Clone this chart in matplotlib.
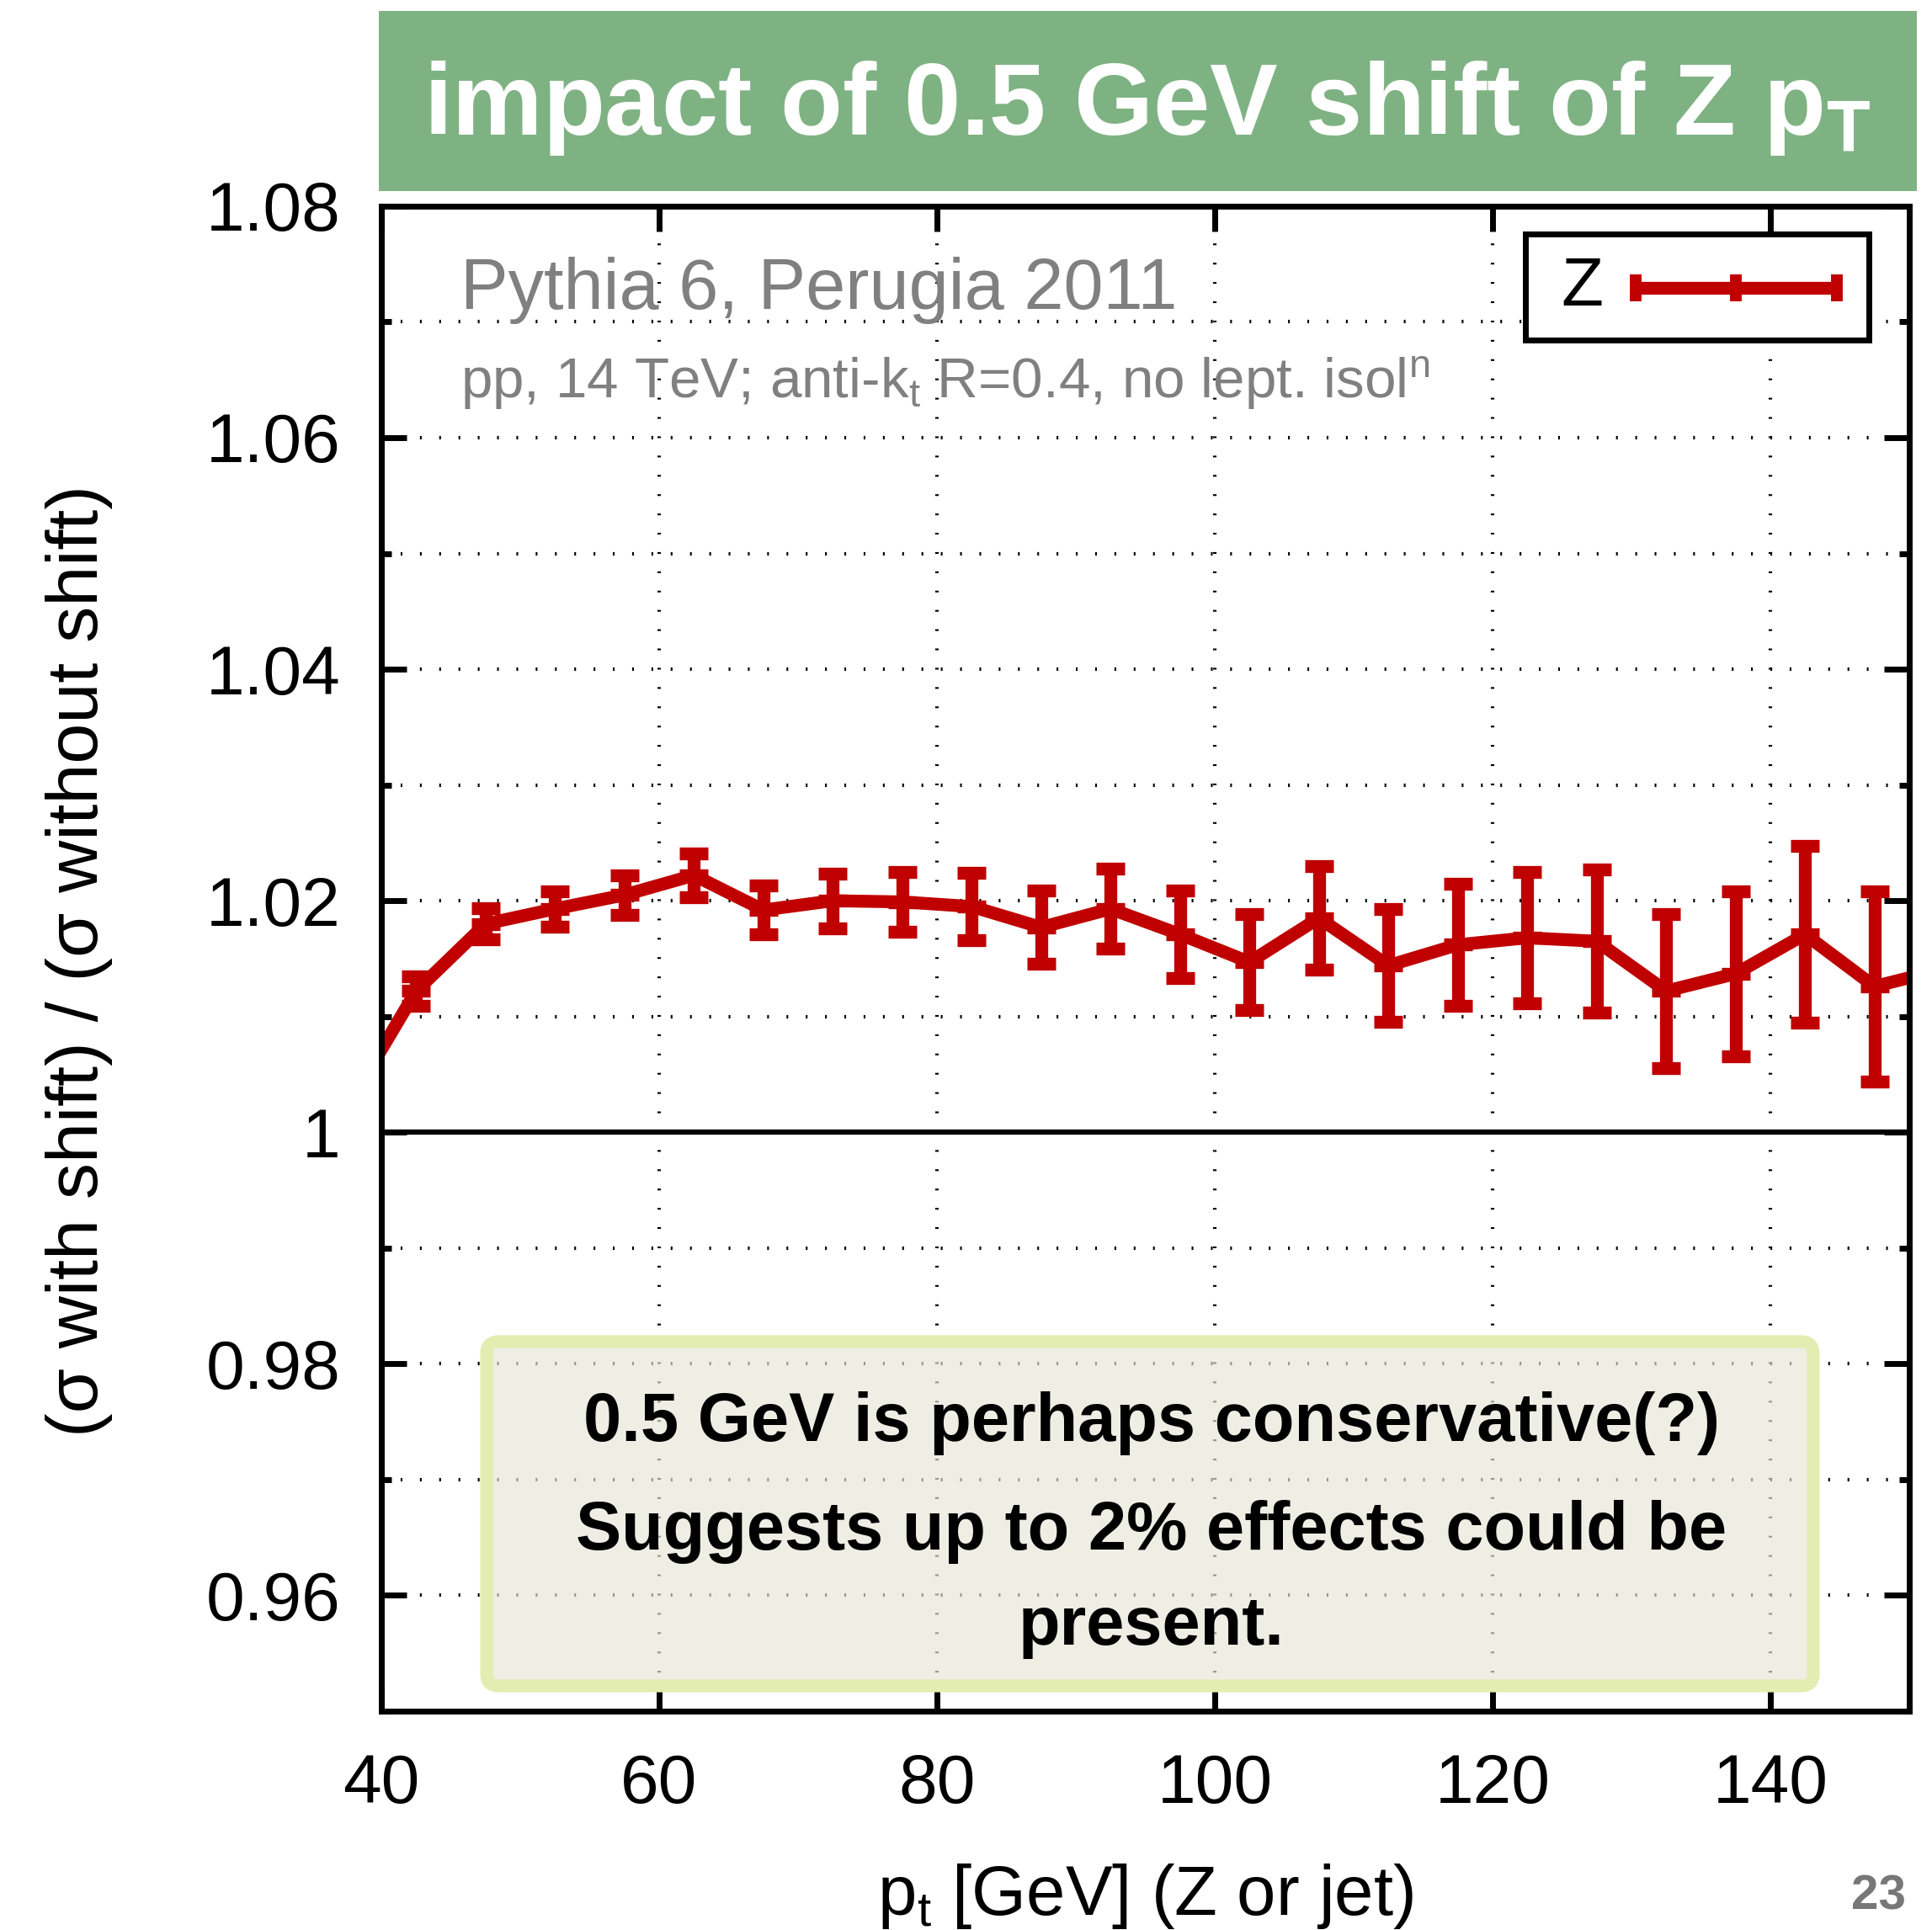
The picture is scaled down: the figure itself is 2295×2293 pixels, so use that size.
import matplotlib
matplotlib.use("Agg")
import matplotlib.pyplot as plt
from matplotlib.patches import Rectangle, FancyBboxPatch
from matplotlib.ticker import MultipleLocator, FuncFormatter

plt.rcParams['font.family'] = ['Liberation Sans', 'DejaVu Sans']
plt.rcParams['mathtext.fontset'] = 'custom'
plt.rcParams['mathtext.rm'] = 'Liberation Sans'
plt.rcParams['mathtext.it'] = 'Liberation Sans:italic'
plt.rcParams['mathtext.bf'] = 'Liberation Sans:bold'

# bin centres in pt (first and last bins sit just outside the plotted range)
pt_centres = [37.5, 42.5, 47.5, 52.5, 57.5, 62.5, 67.5, 72.5, 77.5, 82.5, 87.5, 92.5,
              97.5, 102.5, 107.5, 112.5, 117.5, 122.5, 127.5, 132.5, 137.5, 142.5, 147.5, 152.5]
ratio = [1.0021, 1.0122, 1.0180, 1.0193, 1.0205, 1.0222, 1.0192, 1.0200, 1.0199, 1.0195,
         1.0177, 1.0193, 1.0171, 1.0147, 1.0185, 1.0144, 1.0162, 1.0168, 1.0165, 1.0122,
         1.0137, 1.0171, 1.0126, 1.0141]
ratio_err = [0.0012, 0.00127, 0.00136, 0.00154, 0.00172, 0.0019, 0.00213, 0.00237, 0.0026,
             0.00288, 0.00315, 0.00344, 0.00379, 0.00412, 0.00448, 0.00489, 0.00527, 0.00569,
             0.00617, 0.00663, 0.00714, 0.00766, 0.00824, 0.0089]
series_label = 'Z'

title = r'impact of 0.5 GeV shift of Z $\mathbf{p}_\mathbf{T}$'
gen_label = 'Pythia 6, Perugia 2011'
setup_label = r'pp, 14 TeV; anti-$\mathrm{k_t}$ R=0.4, no lept. iso$\mathrm{l^n}$'
box_lines = ['0.5 GeV is perhaps conservative(?)',
             'Suggests up to 2% effects could be',
             'present.']
page_no = '23'

RED = '#C00000'
GREEN = '#7FB283'
GRAY = '#808080'

fig = plt.figure(figsize=(22.95, 22.93), dpi=100)
ax = fig.add_axes([0.1974, 0.1134, 0.7908, 0.7798])

# title banner
fig.add_artist(Rectangle((0.1961, 0.9010), 0.7961, 0.0933, transform=fig.transFigure,
                         facecolor=GREEN, edgecolor='none', zorder=0))
fig.text(0.5940, 0.9302, title, ha='center', va='baseline', color='white',
         fontsize=87, fontweight='bold')

# data
ax.errorbar(pt_centres, ratio, yerr=ratio_err, color=RED, lw=11, elinewidth=11,
            capsize=12, capthick=11, marker='_', ms=24, mew=11,
            solid_joinstyle='miter', zorder=3)
ax.axhline(1.0, color='black', lw=4.5, zorder=2)

ax.set_xlim(40, 150)
ax.set_ylim(0.95, 1.08)
ax.xaxis.set_major_locator(MultipleLocator(20))
ax.yaxis.set_major_locator(MultipleLocator(0.02))
ax.yaxis.set_minor_locator(MultipleLocator(0.01))
ax.yaxis.set_major_formatter(FuncFormatter(lambda v, p: '%g' % round(v, 4)))

ax.grid(True, which='major', axis='x', color='black', lw=3, linestyle=(0, (0.5, 5)))
ax.grid(True, which='both', axis='y', color='black', lw=3, linestyle=(0, (0.5, 5)))
ax.set_axisbelow(True)

for s in ax.spines.values():
    s.set_linewidth(5)
    s.set_zorder(6)
ax.tick_params(which='both', direction='in', top=True, right=True, width=5, labelsize=59)
ax.tick_params(which='major', length=21.6)
ax.tick_params(which='minor', length=8.6)
ax.tick_params(axis='y', pad=35)
ax.tick_params(axis='x', pad=36)

ax.set_xlabel(r'$\mathrm{p_t}$ [GeV] (Z or jet)', fontsize=60, va='baseline')
ax.xaxis.set_label_coords(0.5, -0.1353)
ax.set_ylabel('(σ with shift) / (σ without shift)', fontsize=62, va='center')
ax.yaxis.set_label_coords(-0.1978, 0.4983)

# annotations
ax.text(0.0518, 0.9318, gen_label, transform=ax.transAxes, color=GRAY, fontsize=61,
        va='baseline', ha='left')
ax.text(0.0518, 0.8725, setup_label, transform=ax.transAxes, color=GRAY, fontsize=48.5,
        va='baseline', ha='left')

# key
ax.add_patch(Rectangle((0.7487, 0.9111), 0.2249, 0.0704, transform=ax.transAxes,
                       facecolor='white', edgecolor='black', lw=5, zorder=5))
ax.text(0.7862, 0.9457, series_label, transform=ax.transAxes, fontsize=59,
        ha='center', va='center', zorder=6)
ax.plot([0.8209, 0.8868, 0.9526], [0.9457] * 3, transform=ax.transAxes, color=RED,
        lw=11, marker='|', ms=23, mew=10, solid_capstyle='butt', zorder=6, clip_on=False)

# comment box
ax.add_patch(FancyBboxPatch((0.0689, 0.0168), 0.8683, 0.2287, transform=ax.transAxes,
                            boxstyle='round,pad=0,rounding_size=0.008',
                            facecolor=(0.90, 0.90, 0.84, 0.66), edgecolor='#E3EDB1',
                            lw=11, zorder=4))
for txt, yb in zip(box_lines, [0.1795, 0.1074, 0.0442]):
    ax.text(0.504, yb, txt, transform=ax.transAxes, fontsize=58.5, fontweight='bold',
            ha='center', va='baseline', zorder=5)

fig.text(0.9725, 0.0105, page_no, ha='center', va='baseline', color='#777777',
         fontsize=42, fontweight='bold')

fig.savefig('out.png', dpi=100)
